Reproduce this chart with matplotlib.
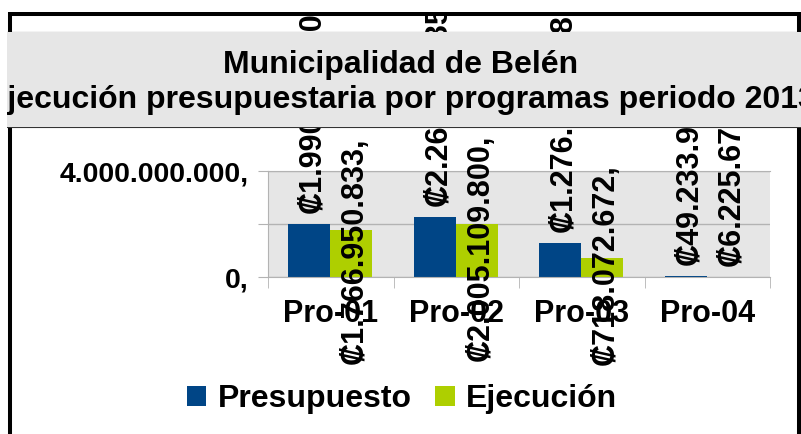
import numpy as np
import matplotlib.pyplot as plt
from matplotlib.patches import Rectangle
from matplotlib.lines import Line2D
from matplotlib import font_manager

# data
programas = ['Pro-01', 'Pro-02', 'Pro-03', 'Pro-04']
presupuesto = [1990453609, 2263854350, 1276394518, 49233958]
ejecucion = [1766950833, 2005109800, 718072672, 6225674]
# where LibreOffice put the green labels
pos_ejecucion = ['center', 'center', 'center', 'outside']

titulo1 = 'Municipalidad de Belén'
titulo2 = 'Ejecución presupuestaria por programas periodo 2013'

AZUL = '#004586'
VERDE = '#aecf00'
GRIS = '#e6e6e6'
LINEA = '#b3b3b3'

plt.rcParams['font.family'] = ['Liberation Sans', 'DejaVu Sans']
plt.rcParams['font.weight'] = 'bold'

# the title is set in a narrow face; use one if there is one
fuente_titulo, estiramiento, tam_titulo = 'Liberation Sans', 'normal', 23
for f in font_manager.fontManager.ttflist:
    if f.name == 'Liberation Sans Narrow':
        fuente_titulo, estiramiento, tam_titulo = f.name, 'normal', 28
        break

W, H = 801, 434
fig = plt.figure(figsize=(W / 100, H / 100), dpi=100)


def fx(px):
    return px / W


def fy(py):
    return 1 - py / H


ax = fig.add_axes([fx(268), fy(277), fx(770) - fx(268), fy(171) - fy(277)])
ax.set_facecolor(GRIS)

x = np.arange(len(programas))
b1 = ax.bar(x - 0.17, presupuesto, 0.335, color=AZUL, label='Presupuesto', zorder=2)
b2 = ax.bar(x + 0.165, ejecucion, 0.335, color=VERDE, label='Ejecución', zorder=2)

ax.set_xlim(-0.5, 3.5)
ax.set_ylim(0, 4e9)
ax.set_yticks([0, 2e9, 4e9])
ax.set_yticklabels(['0,', '', '4.000.000.000,'])
ax.tick_params(axis='y', length=7.2, color=LINEA, pad=7, labelsize=20.5)
ax.set_xticks(x)
ax.set_xticklabels(programas)
ax.set_xticks(np.arange(-0.5, 4, 1), minor=True)
ax.tick_params(axis='x', which='major', length=0, pad=16, labelsize=22)
ax.tick_params(axis='x', which='minor', length=8, color=LINEA)
ax.yaxis.grid(True, color=LINEA, linewidth=1, zorder=1)
ax.set_axisbelow(True)
for s in ['left', 'top', 'bottom']:
    ax.spines[s].set_color(LINEA)
ax.spines['right'].set_visible(False)


def etiqueta(v):
    return '₡' + '{:,}'.format(v).replace(',', '.') + ','


def rotulos(rects, valores, modos):
    for rect, v, modo in zip(rects, valores, modos):
        cx = rect.get_x() + rect.get_width() / 2
        h = rect.get_height()
        if modo == 'center':
            ax.annotate(etiqueta(v), xy=(cx, h / 2), xytext=(2.5, 2),
                        textcoords='offset points', rotation=90,
                        ha='center', va='center', fontsize=22)
        else:
            ax.annotate(etiqueta(v), xy=(cx, h), xytext=(2.5, 8),
                        textcoords='offset points', rotation=90,
                        ha='center', va='bottom', fontsize=22)


rotulos(b1, presupuesto, ['outside'] * 4)
rotulos(b2, ejecucion, pos_ejecucion)

fig.legend(loc='center', bbox_to_anchor=(fx(402), fy(399)), ncol=2, frameon=False,
           prop=dict(size=23, weight='bold'), handlelength=0.6, handleheight=0.6,
           handletextpad=0.35, columnspacing=0.75, borderpad=0)

# outer frame of the chart
fig.patches.append(Rectangle((fx(9.5), fy(470)), fx(799) - fx(9.5), fy(13.5) - fy(470),
                             transform=fig.transFigure, facecolor='none',
                             edgecolor='black', linewidth=2.9, zorder=2))
# title band
fig.patches.append(Rectangle((fx(7), fy(127)), 1, fy(32) - fy(127),
                             transform=fig.transFigure, facecolor=GRIS,
                             edgecolor='none', zorder=3))
for yy in (32, 127):
    fig.lines.append(Line2D([fx(7), 1], [fy(yy), fy(yy)], transform=fig.transFigure,
                            color='#333333', linewidth=0.8, zorder=3))
fig.text(0.5, fy(73), titulo1, ha='center', va='baseline', fontsize=tam_titulo,
         family=[fuente_titulo, 'DejaVu Sans'], stretch=estiramiento, weight='bold', zorder=4)
fig.text(0.5, fy(108), titulo2, ha='center', va='baseline', fontsize=tam_titulo,
         family=[fuente_titulo, 'DejaVu Sans'], stretch=estiramiento, weight='bold', zorder=4)

# white margin outside the frame
fig.patches.append(Rectangle((0, fy(11.5)), 1, 1, transform=fig.transFigure,
                             facecolor='white', edgecolor='none', zorder=5))
fig.patches.append(Rectangle((0, 0), fx(7), 1, transform=fig.transFigure,
                             facecolor='white', edgecolor='none', zorder=5))

fig.savefig('out.png', dpi=100)
